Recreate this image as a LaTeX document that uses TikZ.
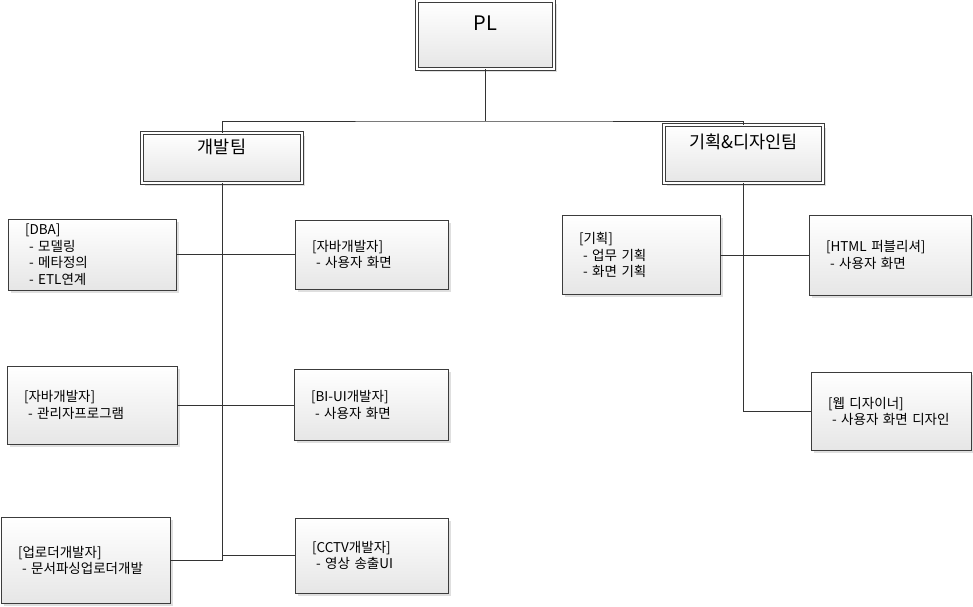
\documentclass[tikz,border=0pt]{standalone}
\usepackage{fontspec}
\setmainfont{Noto Sans CJK KR}
\usetikzlibrary{shadows}
\definecolor{ink}{HTML}{3C3C3C}
\definecolor{wire}{HTML}{333333}
\definecolor{shade}{HTML}{E6E6E6}
\newcommand{\taskline}[1]{\mbox{\hspace*{4pt}-\ #1}}

\begin{document}
\begin{tikzpicture}[x=1pt, y=-1pt,
    box/.style={draw=ink, line width=0.75pt, top color=white, bottom color=shade,
                drop shadow={shadow xshift=2.5pt, shadow yshift=-2.5pt, fill=black!25, opacity=0.5}},
    head/.style={box, double=white, double distance=2.2pt, line width=0.7pt,
                 align=center, inner ysep=4pt},
    leaf/.style={box, align=left, inner xsep=17pt, inner ysep=0pt,
                 font=\fontsize{13.5}{16.5}\selectfont},
    link/.style={draw=wire, line width=0.75pt},
  ]
  \useasboundingbox (0,0) rectangle (973,606);

  % heads
  \node[head, minimum width=137pt, text height=25pt, text depth=35pt,
        font=\fontsize{20}{24}\selectfont]                         (pl)     at (485.5,35)  {PL};
  \node[head, minimum width=160pt, text height=16pt, text depth=26pt,
        font=\fontsize{17.5}{20}\selectfont]                       (dev)    at (222,158)   {개발팀};
  \node[head, minimum width=159pt, text height=19pt, text depth=31pt,
        font=\fontsize{17.5}{20}\selectfont]                       (design) at (743.5,154) {기획\&디자인팀};

  % dev team
  \node[leaf, text width=134pt, minimum height=71pt] (dba)     at (92,254.5)
    {[DBA]\\ \taskline{모델링}\\ \taskline{메타정의}\\ \taskline{ETL연계}};
  \node[leaf, text width=119pt, minimum height=69pt] (javaweb) at (371.5,254.5)
    {[자바개발자]\\ \taskline{사용자 화면}};
  \node[leaf, text width=136pt, minimum height=78pt] (javaadm) at (92,405)
    {[자바개발자]\\ \taskline{관리자프로그램}};
  \node[leaf, text width=120pt, minimum height=71pt] (biui)    at (371,405)
    {[BI-UI개발자]\\ \taskline{사용자 화면}};
  \node[leaf, text width=135pt, minimum height=86pt] (upload)  at (85.5,560.5)
    {[업로더개발자]\\ \taskline{문서파싱업로더개발}};
  \node[leaf, text width=119pt, minimum height=75pt] (cctv)    at (371.5,555.5)
    {[CCTV개발자]\\ \taskline{영상 송출UI}};

  % planning & design team
  \node[leaf, text width=124pt, minimum height=79pt] (plan)    at (641,255)
    {[기획]\\ \taskline{업무 기획}\\ \taskline{화면 기획}};
  \node[leaf, text width=128pt, minimum height=80pt] (html)    at (890,255)
    {[HTML 퍼블리셔]\\ \taskline{사용자 화면}};
  \node[leaf, text width=126pt, minimum height=78pt] (webdes)  at (891,411.5)
    {[웹 디자이너]\\ \taskline{사용자 화면 디자인}};

  \coordinate (bus) at (485.5,121);
  \draw[link] (pl) -- (bus);
  \draw[link] (dev) |- (bus) -| (design);

  \draw[link] (dev) |- (upload);
  \draw[link] (dba) -- (javaweb);
  \draw[link] (javaadm) -- (biui);
  \draw[link] (cctv.west) -- (cctv.west -| dev);

  \draw[link] (design) |- (webdes);
  \draw[link] (plan) -- (html);
\end{tikzpicture}
\end{document}
